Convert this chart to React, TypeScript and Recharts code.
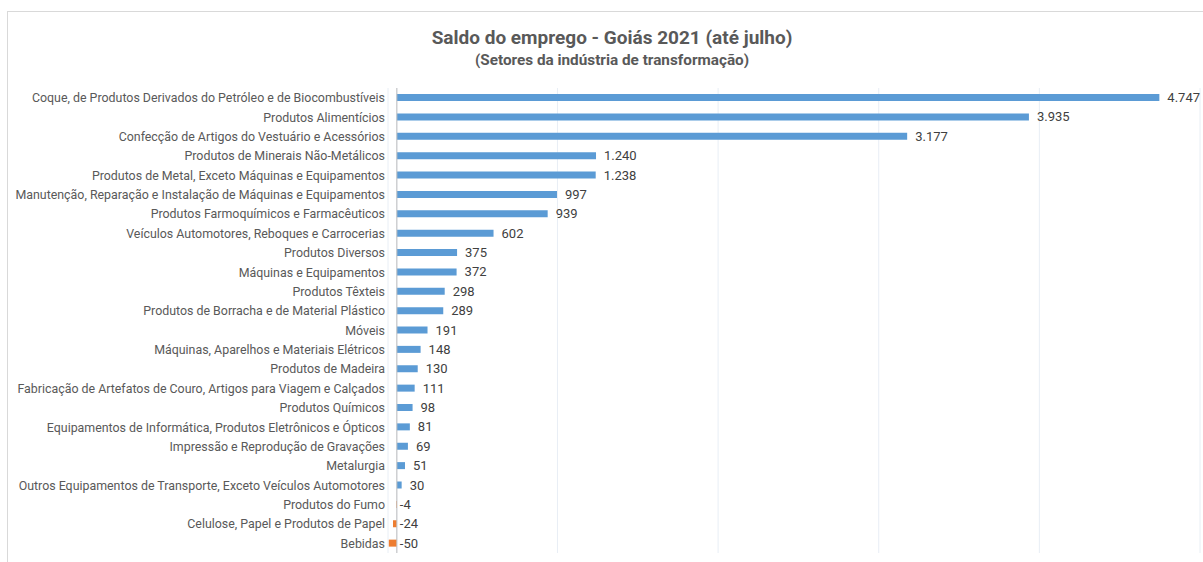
import { BarChart, Bar, XAxis, YAxis, CartesianGrid, ReferenceLine, Cell, LabelList } from 'recharts';

const setores = [
  'Coque, de Produtos Derivados do Petróleo e de Biocombustíveis',
  'Produtos Alimentícios',
  'Confecção de Artigos do Vestuário e Acessórios',
  'Produtos de Minerais Não-Metálicos',
  'Produtos de Metal, Exceto Máquinas e Equipamentos',
  'Manutenção, Reparação e Instalação de Máquinas e Equipamentos',
  'Produtos Farmoquímicos e Farmacêuticos',
  'Veículos Automotores, Reboques e Carrocerias',
  'Produtos Diversos',
  'Máquinas e Equipamentos',
  'Produtos Têxteis',
  'Produtos de Borracha e de Material Plástico',
  'Móveis',
  'Máquinas, Aparelhos e Materiais Elétricos',
  'Produtos de Madeira',
  'Fabricação de Artefatos de Couro, Artigos para Viagem e Calçados',
  'Produtos Químicos',
  'Equipamentos de Informática, Produtos Eletrônicos e Ópticos',
  'Impressão e Reprodução de Gravações',
  'Metalurgia',
  'Outros Equipamentos de Transporte, Exceto Veículos Automotores',
  'Produtos do Fumo',
  'Celulose, Papel e Produtos de Papel',
  'Bebidas',
];

const saldo = [4747, 3935, 3177, 1240, 1238, 997, 939, 602, 375, 372, 298, 289, 191, 148, 130, 111, 98, 81, 69, 51, 30, -4, -24, -50];

const xTicks = [0, 1000, 2000, 3000, 4000, 5000];

const data = setores.map((setor, i) => ({ setor, valor: saldo[i] }));

const fmt = (v: number) => {
  const s = Math.abs(v).toString().replace(/\B(?=(\d{3})+(?!\d))/g, '.');
  return (v < 0 ? '-' : '') + s;
};

const ValueLabel = (props: any) => {
  const { x, y, width, height, value } = props;
  const right = Math.max(x, x + width);
  const off = value < 0 ? 3 : 8;
  return (
    <text x={right + off} y={y + height / 2} dy={4.5} fontSize={13} fill="#404040" fontFamily="Roboto">
      {fmt(value)}
    </text>
  );
};

const SetorTick = (props: any) => {
  const { x, y, payload } = props;
  return (
    <text x={x} y={y} dy={4.5} textAnchor="end" fontSize={12.4} fill="#595959" fontFamily="Roboto">
      {payload.value}
    </text>
  );
};

export default function App() {
  return (
    <div
      style={{
        position: 'absolute',
        left: 7,
        top: 11,
        width: 1210,
        height: 560,
        border: '1px solid #d9d9d9',
        background: '#fff',
        fontFamily: 'Roboto',
        overflow: 'hidden',
      }}
    >
      <div style={{ position: 'absolute', left: 0, width: 1208, top: 14, textAlign: 'center', fontSize: 19, fontWeight: 'bold', color: '#595959' }}>
        Saldo do emprego - Goiás 2021 (até julho)
      </div>
      <div style={{ position: 'absolute', left: 0, width: 1208, top: 39, textAlign: 'center', fontSize: 15.3, fontWeight: 'bold', color: '#595959' }}>
        (Setores da indústria de transformação)
      </div>
      <BarChart
        width={1208}
        height={550}
        data={data}
        layout="vertical"
        margin={{ top: 76, right: 16, bottom: 9, left: 0 }}
        barSize={7}
      >
        <CartesianGrid horizontal={false} stroke="#e8eef5" />
        <XAxis type="number" hide domain={[-55, 5000]} ticks={xTicks} />
        <YAxis
          type="category"
          dataKey="setor"
          width={380}
          tickLine={false}
          axisLine={false}
          tickSize={0}
          tickMargin={3}
          interval={0}
          tick={<SetorTick />}
        />
        <ReferenceLine x={0} stroke="#bfbfbf" />
        <Bar dataKey="valor" isAnimationActive={false}>
          {data.map((d, i) => (
            <Cell key={i} fill={d.valor < 0 ? '#ed7d31' : '#5b9bd5'} />
          ))}
          <LabelList dataKey="valor" content={<ValueLabel />} />
        </Bar>
      </BarChart>
    </div>
  );
}
